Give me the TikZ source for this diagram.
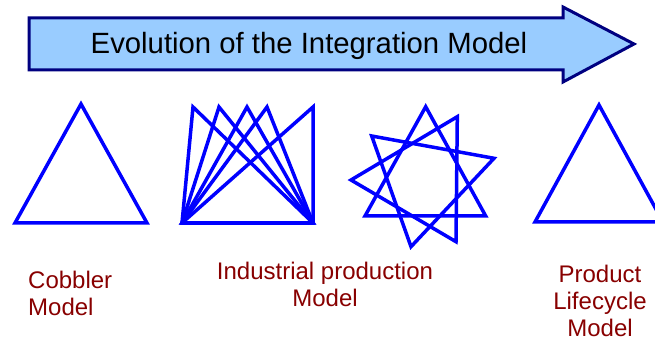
\documentclass[tikz,border=0pt]{standalone}
\usepackage{fontspec}
\setmainfont{Liberation Sans}
\usetikzlibrary{positioning}
\definecolor{arrowfill}{HTML}{99CCFF}
\definecolor{arrowline}{HTML}{000080}
\definecolor{modelblue}{HTML}{0000FF}
\definecolor{labelred}{HTML}{880000}

\begin{document}
\begin{tikzpicture}[x=1pt, y=-1pt,
    banner/.style={draw=arrowline, fill=arrowfill, line width=3pt, line join=miter},
    tri/.style={draw=modelblue, line width=3.5pt, line join=miter, miter limit=2.5},
    lbl/.style={text=labelred, font=\fontsize{24}{27}\selectfont, inner sep=0pt, align=center}
]
\useasboundingbox (0,0) rectangle (655,344);

% banner arrow
\draw[banner] (29,18) -- (563,18) -- (563,7) -- (634,44) -- (563,82) -- (563,70) -- (29,70) -- cycle;
\node[font=\fontsize{29.3}{33}\selectfont] (title) at (309,46) {Evolution of the Integration Model};

% cobbler
\draw[tri] (81,104) -- (147,223) -- (15,223) -- cycle;

% industrial production: five triangles on one base
\foreach \ax in {193,219,247,267,313}
    \draw[tri] (\ax,107) -- (313,223) -- (182,223) -- cycle;

% star of three triangles
\draw[tri] (425.7,106.7) -- (485.7,216) -- (365,216) -- cycle;
\draw[tri] (457.3,116.7) -- (456,241.7) -- (351,180) -- cycle;
\draw[tri] (371.7,136) -- (494,158.3) -- (411,246.7) -- cycle;

% product lifecycle
\draw[tri] (599,105) -- (663,222) -- (535,222) -- cycle;

% labels
\node[lbl, align=left, anchor=north west] (cobbler) at (28,271) {Cobbler\\Model};
\node[lbl, anchor=north] (industrial) at (325,262) {Industrial production\\Model};
\node[lbl, anchor=north] (lifecycle) at (600,265) {Product\\Lifecycle\\Model};
\end{tikzpicture}
\end{document}
